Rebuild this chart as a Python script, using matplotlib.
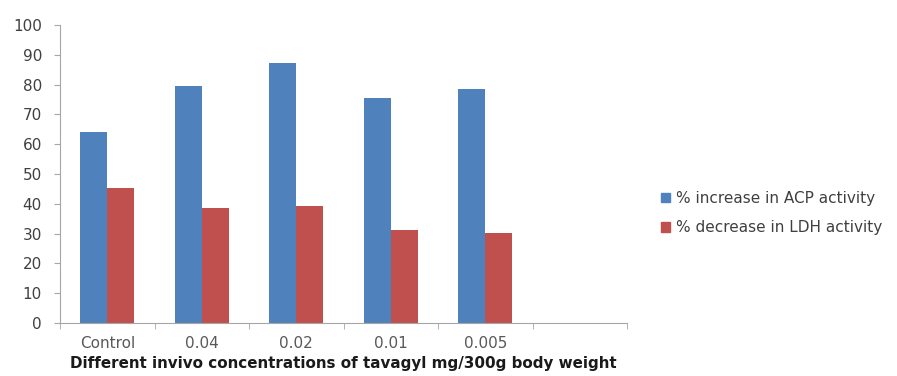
import numpy as np
import matplotlib.pyplot as plt
from matplotlib.patches import Patch

categories = ['Control', '0.04', '0.02', '0.01', '0.005', '']
acp_increase = [64.0, 79.6, 87.1, 75.6, 78.5]
ldh_decrease = [45.4, 38.5, 39.2, 31.2, 30.3]
yticks = list(range(0, 101, 10))

plt.rcParams['font.family'] = ['DejaVu Sans']

fig = plt.figure(figsize=(8.97, 3.76), dpi=100)
ax = fig.add_axes([60 / 897, 53 / 376, 567 / 897, 298 / 376])

w = 0.285
x = np.arange(len(acp_increase))
ax.bar(x - w / 2, acp_increase, w, color='#4F81BD', label='% increase in ACP activity')
ax.bar(x + w / 2, ldh_decrease, w, color='#C0504D', label='% decrease in LDH activity')

ax.set_xlim(-0.5, len(categories) - 0.5)
ax.set_ylim(0, 100)
ax.set_yticks(yticks)
ax.set_xticks(np.arange(len(categories)))
ax.set_xticklabels(categories)
ax.set_xticks(np.arange(len(categories) + 1) - 0.5, minor=True)
ax.tick_params(axis='x', which='major', length=0, pad=9, labelsize=11, labelcolor='#595959')
ax.tick_params(axis='x', which='minor', length=4, color='#A6A6A6', direction='out')
ax.tick_params(axis='y', length=4, color='#A6A6A6', labelsize=11, labelcolor='#404040', pad=9)

for s in ['top', 'right']:
    ax.spines[s].set_visible(False)
for s in ['left', 'bottom']:
    ax.spines[s].set_color('#A6A6A6')

ax.set_xlabel('Different invivo concentrations of tavagyl mg/300g body weight',
              fontsize=10.9, fontweight='bold', color='#1a1a1a', labelpad=4)

handles = [Patch(color='#4F81BD'), Patch(color='#C0504D')]
fig.legend(handles, ['% increase in ACP activity', '% decrease in LDH activity'],
           loc='center left', bbox_to_anchor=(647 / 897, 1 - 213 / 376), frameon=False,
           handlelength=0.6, handleheight=0.6, handletextpad=0.4, labelspacing=0.95,
           fontsize=11, labelcolor='#404040')

plt.savefig('out.png', dpi=100)
